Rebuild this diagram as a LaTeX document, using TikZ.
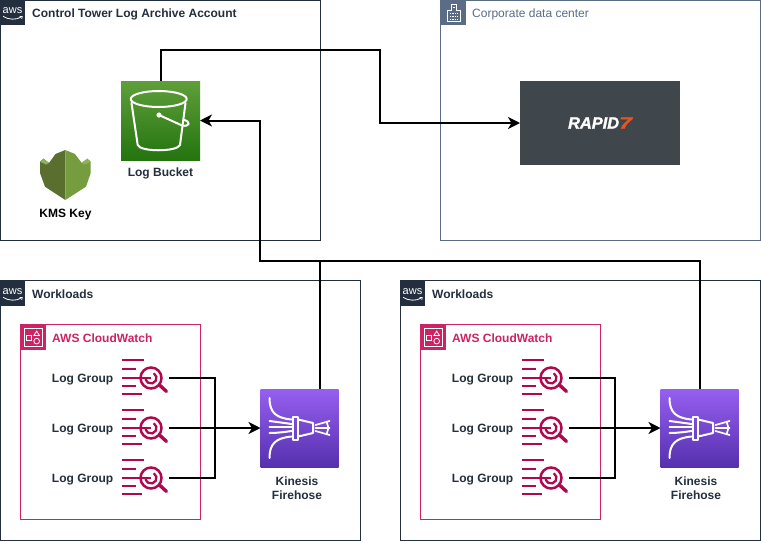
\documentclass[tikz,border=0pt]{standalone}
\usepackage{fontspec}
\setmainfont{Liberation Sans}
\usetikzlibrary{arrows.meta,shapes.geometric}
\definecolor{awsdark}{HTML}{232F3E}
\definecolor{corp}{HTML}{5A6C86}
\definecolor{cwpink}{HTML}{CD2264}
\definecolor{lgpink}{HTML}{B0084D}
\definecolor{kmsdark}{HTML}{5A6E30}
\definecolor{kmslight}{HTML}{759C3E}
\definecolor{kmstop}{HTML}{8DB356}
\definecolor{rapidbg}{HTML}{3F474C}
\definecolor{rapidor}{HTML}{E8561E}
\definecolor{s3top}{HTML}{5F9F3A}
\definecolor{s3bot}{HTML}{24740F}
\definecolor{fhtop}{HTML}{965FF0}
\definecolor{fhbot}{HTML}{5530AE}
\tikzset{
  groupbox/.style={draw=#1,line width=1pt,fill=none,anchor=north west,inner sep=0pt,outer sep=0pt},
  tabbox/.style={fill=#1,anchor=north west,minimum width=25pt,minimum height=25pt,inner sep=0pt,outer sep=0pt},
  grouptitle/.style={anchor=west,inner sep=0pt,font=\fontsize{12}{14}\selectfont\bfseries,text=awsdark},
  iconlabel/.style={align=center,inner sep=0pt,font=\fontsize{12}{14}\selectfont\bfseries,text=awsdark},
  lglabel/.style={anchor=east,inner sep=0pt,font=\fontsize{12}{14}\selectfont\bfseries,text=awsdark},
  s3box/.style={minimum width=79pt,minimum height=79pt,inner sep=0pt,outer sep=0pt,top color=s3top,bottom color=s3bot},
  fhbox/.style={minimum width=78pt,minimum height=78pt,inner sep=0pt,outer sep=0pt,top color=fhtop,bottom color=fhbot},
  lgnode/.style={minimum width=48pt,minimum height=38pt,inner sep=0pt,outer sep=0pt},
  link/.style={line width=2pt,black,line join=miter},
  arrowlink/.style={link,-{Stealth[length=12pt,width=12pt,inset=3.5pt]}},
  iconline/.style={white,line width=2pt,line cap=round,line join=round},
  lgline/.style={lgpink,line width=2.3pt},
  pics/logsearch/.style={code={
    \draw[lgline] (-23.5,-18) -- (-1,-18) (-23.5,-9) -- (-9,-9) (-23.5,0) -- (6,0)
       (-23.5,8) -- (-9,8) (-23.5,16.3) -- (-3,16.3);
    \draw[lgline,line width=2.5pt] (6,0) circle (10.5);
    \draw[lgline] (6,0) ++(-60:5.5) arc[start angle=-60,end angle=190,radius=5.5];
    \draw[lgpink,line width=3.4pt,line cap=round] (14.5,7) -- (21.5,13.5);
  }},
  pics/firehoseicon/.style={code={
    \draw[iconline] (-30,-30) .. controls (-30,-16) and (-24,-10) .. (-8,-8.5);
    \draw[iconline] (-30,30) .. controls (-30,16) and (-24,10) .. (-8,8.5);
    \draw[iconline] (-30,-7) .. controls (-22,-6) and (-15,-5) .. (-8,-4);
    \draw[iconline] (-30,-1) -- (-8,-1);
    \draw[iconline] (-30,5) .. controls (-22,5) and (-15,4) .. (-8,3);
    \draw[iconline] (-7,-11.5) rectangle (-1.3,11.5);
    \draw[iconline] (-1.3,-8.5) -- (13.5,-5) -- (13.5,5) -- (-1.3,8.5);
    \draw[iconline,line width=1.7pt] (16,-3) -- (30,-7) (16,0) -- (30,0) (16,3) -- (30,7) (27,-6.5) -- (29,0) -- (27,6.5);
  }},
  pics/cwglyph/.style={code={
    \draw[white,line width=.8pt] (-8.5,-3) rectangle (-2.5,3);
    \draw[white,line width=.8pt] (4,-8) -- (7.5,-2.5) -- (.5,-2.5) -- cycle;
    \draw[white,line width=.8pt] (4,4.5) circle (3.6);
    \draw[white,line width=.8pt] (-11,-11) rectangle (11,11);
  }},
  pics/awsglyph/.style={code={
    \node[white,inner sep=0pt,font=\fontsize{11}{11}\selectfont] at (0,-2.2) {aws};
    \draw[white,line width=.8pt] (-9.5,3.8) .. controls (-4,7.5) and (4,7.5) .. (8.5,4.6);
    \draw[white,line width=.7pt] (7,3.9) -- (9.8,3.9) -- (9.2,6.4);
  }}
}
\begin{document}
\begin{tikzpicture}[x=1pt,y=-1pt]
\useasboundingbox (0,0) rectangle (761,542);
\fill[white] (0,0) rectangle (761,542);

% groups
\node[groupbox=awsdark,minimum width=320pt,minimum height=240pt] (ctbox) at (.5,.5) {};
\node[groupbox=corp,minimum width=320pt,minimum height=240pt] (dcbox) at (440.5,.5) {};
\node[groupbox=awsdark,minimum width=360pt,minimum height=260pt] (wl1box) at (.5,280.5) {};
\node[groupbox=awsdark,minimum width=360pt,minimum height=260pt] (wl2box) at (400.5,280.5) {};
\node[groupbox=cwpink,minimum width=180pt,minimum height=195pt] (cw1box) at (20.5,324.5) {};
\node[groupbox=cwpink,minimum width=180pt,minimum height=195pt] (cw2box) at (420.5,324.5) {};

% tabs
\node[tabbox=awsdark] (ttab) at (0,0) {};
\pic at (ttab.center) {awsglyph};
\node[tabbox=corp] (dtab) at (441,0) {};
\draw[white,line width=.8pt] (447.5,21) -- (447.5,10) -- (451,10) -- (451,4.5) -- (456.5,4.5) -- (456.5,10) -- (460,10) -- (460,21) -- cycle;
\draw[white,line width=.7pt,densely dotted] (450,13) -- (458,13) (450,16) -- (458,16) (450,19) -- (458,19) (452.5,7.5) -- (455.5,7.5);
\node[tabbox=awsdark] (w1tab) at (0,281) {};
\pic at (w1tab.center) {awsglyph};
\node[tabbox=awsdark] (w2tab) at (400,281) {};
\pic at (w2tab.center) {awsglyph};
\node[tabbox=cwpink] (c1tab) at (21,325) {};
\pic[scale=.8] at (c1tab.center) {cwglyph};
\node[tabbox=cwpink] (c2tab) at (421,325) {};
\pic[scale=.8] at (c2tab.center) {cwglyph};

% titles
\node[grouptitle] (ttitle) at (32,14) {Control Tower Log Archive Account};
\node[grouptitle,font=\fontsize{12}{14}\selectfont,text=corp] (dtitle) at (472,14) {Corporate data center};
\node[grouptitle] (w1title) at (32,294) {Workloads};
\node[grouptitle] (w2title) at (432,294) {Workloads};
\node[grouptitle,text=cwpink] (c1title) at (52,338) {AWS CloudWatch};
\node[grouptitle,text=cwpink] (c2title) at (452,338) {AWS CloudWatch};

% bucket
\node[s3box] (bucket) at (160.5,120.5) {};
\begin{scope}[iconline]
  \draw (158.7,99) ellipse[x radius=28,y radius=8];
  \draw (131.5,103) -- (137.7,145) .. controls (140,152) and (177,152) .. (180,145) -- (185.5,103);
  \draw (159,115) -- (182,125.5) .. controls (190,127) and (191,122) .. (184,119.8);
  \fill[white] (159,115) circle (2.6);
\end{scope}
\node[iconlabel] (bucketlabel) at (160.5,173.5) {Log Bucket};

% KMS key
\fill[kmsdark] (65.3,150) -- (55.5,154) -- (49,163) -- (43.5,158.7) -- (40,161.7) -- (40,173) -- (45,186.7) -- (65.3,200) -- cycle;
\fill[kmslight] (65.3,150) -- (75,154) -- (81.7,163) -- (87.3,158.7) -- (90.7,161.7) -- (90.7,173) -- (86,186.7) -- (65.3,200) -- cycle;
\fill[kmstop] (40,161.7) -- (43.5,158.7) -- (49,163) -- (46,164.5) -- cycle;
\fill[kmstop] (90.7,161.7) -- (87.3,158.7) -- (81.7,163) -- (85,164.5) -- cycle;
\node[iconlabel,text=black] (kmslabel) at (65.5,214.5) {KMS Key};

% rapid7
\node[fill=rapidbg,minimum width=160pt,minimum height=84pt,inner sep=0pt,outer sep=0pt] (rapid) at (600,123) {};
\node[inner sep=0pt,font=\fontsize{16.4}{16.4}\selectfont\bfseries\itshape\addfontfeatures{FakeBold=1.5}] (rapidtext) at (600,123) {\textcolor{white}{RAPID}\textcolor{rapidor}{\scalebox{1.4}[1]{7}}};

% firehose
\node[fhbox] (fh1) at (299.5,428) {};
\pic at (fh1.center) {firehoseicon};
\node[iconlabel] (fh1label) at (297,488) {Kinesis\\Firehose};
\node[fhbox] (fh2) at (699.5,428) {};
\pic at (fh2.center) {firehoseicon};
\node[iconlabel] (fh2label) at (696,488) {Kinesis\\Firehose};

% log groups
\foreach \n/\y in {1/378,2/428,3/478}{
  \node[lgnode] (la\n) at (145,\y) {};
  \pic at (la\n.center) {logsearch};
  \node[lglabel] (lal\n) at (113.5,\y+1.5) {Log Group};
  \node[lgnode] (lb\n) at (545,\y) {};
  \pic at (lb\n.center) {logsearch};
  \node[lglabel] (lbl\n) at (513.5,\y+1.5) {Log Group};
}

% connector way points
\coordinate (bend1) at (380,50);
\coordinate (trunk) at (260,261);
\coordinate (busa) at (215,428);
\coordinate (busb) at (615,428);

% connectors
\draw[arrowlink] (bucket.north) |- (bend1) |- (rapid.west);
\draw[arrowlink] ([xshift=20.5pt]fh1.north) |- (trunk) |- (bucket.east);
\draw[link] (fh2.north) |- (trunk);
\draw[link] (la1.east) -| (busa) (la3.east) -| (busa);
\draw[arrowlink] (la2.east) -- (fh1.west);
\draw[link] (lb1.east) -| (busb) (lb3.east) -| (busb);
\draw[arrowlink] (lb2.east) -- (fh2.west);
\end{tikzpicture}
\end{document}
